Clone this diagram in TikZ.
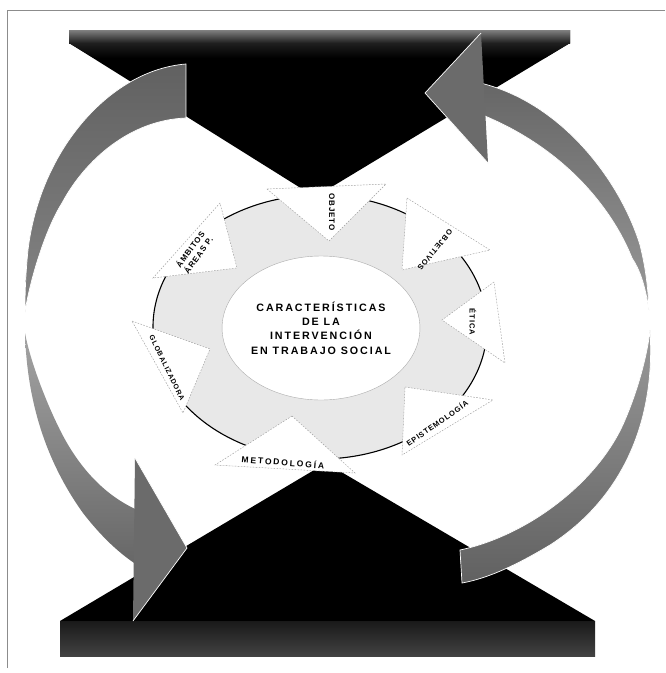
\documentclass[tikz,border=0pt]{standalone}
\usepackage{fontspec}
\setmainfont{Liberation Sans}
\usepackage{tikz}
\usetikzlibrary{shapes.geometric}
\newfontfamily\spaced{Liberation Sans Bold}[LetterSpace=18]
\newfontfamily\tight{Liberation Sans Bold}[LetterSpace=12]
\newfontfamily\wide{Liberation Sans Bold}[LetterSpace=22]
\definecolor{ringgray}{gray}{0.91}
\definecolor{framegray}{gray}{0.55}

\begin{document}
\begin{tikzpicture}[x=1pt, y=-1pt,
    ring/.style={draw=black, line width=1.1pt, fill=ringgray, ellipse,
                 minimum width=334, minimum height=264, inner sep=0pt},
    core/.style={draw=gray!65, line width=0.4pt, fill=white, ellipse,
                 minimum width=182, minimum height=144, inner sep=0pt, align=center,
                 font=\spaced\fontsize{10.7}{14.4}\selectfont},
    tooth/.style={draw=gray!75, dash pattern=on 1.6pt off 1.4pt, line width=0.45pt, fill=white},
    tlab/.style={font=\tight\fontsize{#1}{10}\selectfont, inner sep=0pt, align=center},
    tlab/.default=7.5,
    sweep/.style={draw=white, line width=0.7pt}
]
\useasboundingbox (0,0) rectangle (665,673);
\fill[white] (0,0) rectangle (665,673);
\draw[framegray, line width=0.8pt] (7,668) -- (7,10) -- (665,10);

% black blocks
\fill[black] (69,30) -- (570,30) -- (570,43) -- (315,197) -- (69,43) -- cycle;
\shade[top color=black!50, bottom color=black!88] (69,30) rectangle (570,43);
\shade[top color=black!88, bottom color=black] (69,43) -- (570,43) -- (545,58) -- (94,58) -- cycle;
\fill[black] (60,621) -- (326,463) -- (595,621) -- cycle;
\shade[top color=black!90, bottom color=black!74] (60,621) rectangle (595,656);

% left arrow
\shade[sweep, top color=black!62, bottom color=black!48]
    (186,64) .. controls (110,70) and (40,150) .. (28,250)
    .. controls (25,280) and (25,300) .. (25,312)
    .. controls (30,280) and (45,230) .. (62,203)
    .. controls (85,160) and (130,120) .. (186,118) -- cycle;
\shade[top color=black!36, bottom color=black!60]
    (25,333) .. controls (27,400) and (45,460) .. (83,513)
    .. controls (100,535) and (120,555) .. (142,568)
    -- (142,512) .. controls (100,495) and (75,460) .. (60,430)
    .. controls (45,400) and (30,360) .. (25,333) -- cycle;
\fill[black!58] (135,458) -- (187,548) -- (133,621) -- cycle;
\draw[sweep] (135,458) -- (187,548) -- (133,621);

% right arrow
\shade[sweep, top color=black!60, bottom color=black!40]
    (476,82) .. controls (560,100) and (620,180) .. (640,245)
    .. controls (645,265) and (648,285) .. (649,310)
    .. controls (645,285) and (640,270) .. (632,258)
    .. controls (615,215) and (570,150) .. (480,114) -- cycle;
\shade[sweep, top color=black!40, bottom color=black!62]
    (650,330) .. controls (656,425) and (620,500) .. (550,545)
    .. controls (520,563) and (490,578) .. (462,583)
    -- (460,550) .. controls (530,535) and (600,480) .. (625,420)
    .. controls (640,385) and (648,350) .. (650,330) -- cycle;
\fill[black!58] (481,33) -- (425,93) -- (488,163) -- cycle;
\draw[sweep] (481,33) -- (425,93) -- (488,163);

% wheel
\node[ring] (wheel) at (320,327) {};
\node[core] (core) at (321,328) {CARACTERÍSTICAS\\DE LA\\INTERVENCIÓN\\EN TRABAJO SOCIAL};

\filldraw[tooth] (267,189) -- (386,184) -- (329,241) -- cycle;
\filldraw[tooth] (407,198) -- (490,250) -- (402,270) -- cycle;
\filldraw[tooth] (494,282) -- (442,320) -- (505,363) -- cycle;
\filldraw[tooth] (405,387) -- (493,400) -- (402,455) -- cycle;
\filldraw[tooth] (292,416) -- (215,465) -- (355,473) -- cycle;
\filldraw[tooth] (132,321) -- (210,349) -- (183,413) -- cycle;
\filldraw[tooth] (220,203) -- (153,278) -- (237,268) -- cycle;

\node[tlab=8, rotate=-90] (objeto) at (332,212) {OBJETO};
\node[tlab, rotate=231] (objetivos) at (435,250) {OBJETIVOS};
\node[tlab, rotate=-90] (etica) at (473,322) {ÉTICA};
\node[tlab, rotate=35] (episte) at (437,423) {EPISTEMOLOGÍA};
\node[tlab, font=\wide\fontsize{8.5}{10}\selectfont, rotate=-4.5] (metodo) at (283,462) {METODOLOGÍA};
\node[tlab=7, rotate=-64] (global) at (167,368) {GLOBALIZADORA};
\node[tlab=8, rotate=54] (ambitos) at (194,252) {ÁMBITOS\\ÁREAS P.};
\end{tikzpicture}
\end{document}
